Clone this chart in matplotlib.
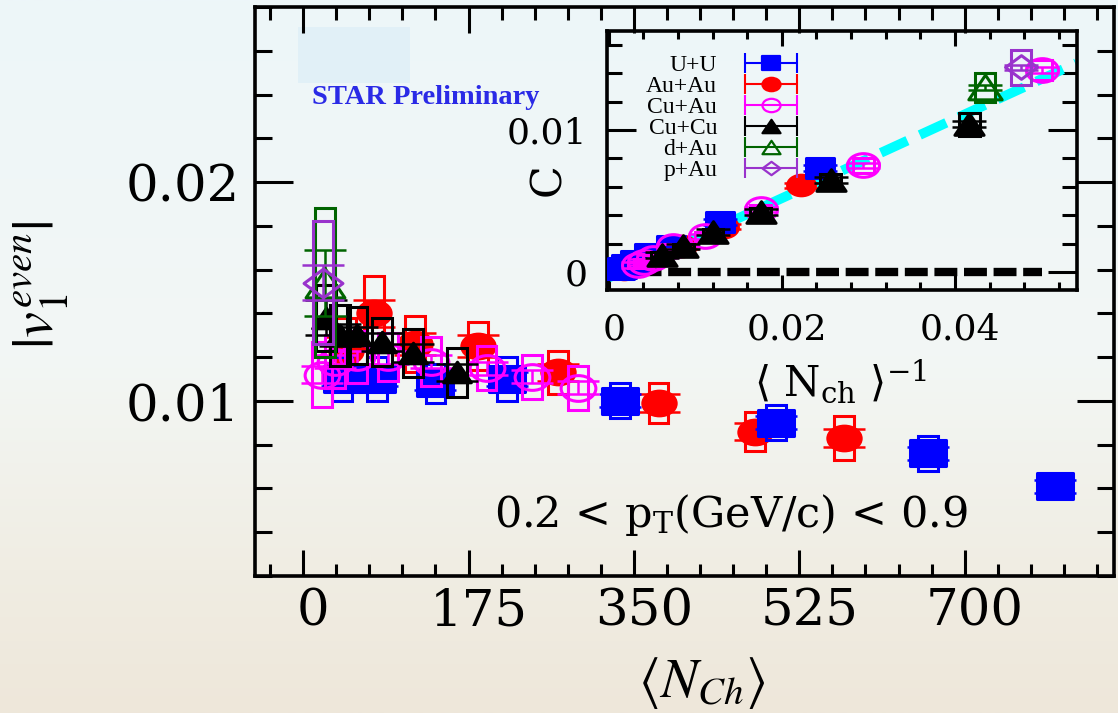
import matplotlib

matplotlib.use("Agg")

import matplotlib.pyplot as plt
import numpy as np
from matplotlib.container import ErrorbarContainer
from matplotlib.legend_handler import HandlerErrorbar
from matplotlib.patches import Rectangle
from matplotlib.path import Path
from matplotlib.ticker import FormatStrFormatter, MultipleLocator
from matplotlib.transforms import ScaledTranslation

# ---- data ----
systems = ["U+U", "Au+Au", "Cu+Au", "Cu+Cu", "d+Au", "p+Au"]

nch_uu = [41, 78, 140, 216, 335, 500, 661, 796]
v1_uu = [0.0110, 0.0110, 0.0108, 0.0110, 0.0100, 0.0090, 0.0076, 0.0061]
stat_uu = [0.0003, 0.0003, 0.0003, 0.0003, 0.0003, 0.0003, 0.0003, 0.0003]
sys_uu = [0.0010, 0.0010, 0.0009, 0.0010, 0.0008, 0.0008, 0.0008, 0.0005]
c_uu = [0.0073, 0.0035, 0.0018, 0.0013, 0.0008, 0.0005, 0.0003, 0.0002]

nch_auau = [45, 75, 118, 185, 270, 376, 478, 572]
v1_auau = [0.0123, 0.0140, 0.0126, 0.0125, 0.0113, 0.0099, 0.0086, 0.0083]
stat_auau = [0.0006, 0.0006, 0.0005, 0.0005, 0.0004, 0.0004, 0.0004, 0.0004]
sys_auau = [0.0015, 0.0017, 0.0013, 0.0011, 0.0010, 0.0009, 0.0009, 0.0010]
c_auau = [0.0061, 0.0032, 0.0018, 0.0012, 0.0008, 0.0005, 0.0003, 0.0002]

nch_cuau = [20, 34, 57, 90, 135, 194, 242, 291]
v1_cuau = [0.0112, 0.0118, 0.0120, 0.0120, 0.0118, 0.0115, 0.0111, 0.0106]
stat_cuau = [0.0004, 0.0003, 0.0003, 0.0003, 0.0003, 0.0003, 0.0003, 0.0003]
sys_cuau = [0.0015, 0.0012, 0.0012, 0.0011, 0.0011, 0.0010, 0.0010, 0.0010]
c_cuau = [0.0142, 0.0075, 0.0044, 0.0025, 0.0018, 0.0010, 0.0007, 0.0005]

nch_cucu = [24, 39, 57, 83, 116, 163]
v1_cucu = [0.0138, 0.0130, 0.0130, 0.0127, 0.0122, 0.0113]
stat_cucu = [0.0008, 0.0005, 0.0004, 0.0004, 0.0004, 0.0004]
sys_cucu = [0.0015, 0.0014, 0.0013, 0.0011, 0.0011, 0.0011]
c_cucu = [0.0104, 0.0065, 0.0042, 0.0028, 0.0018, 0.0012]

nch_dau = [23]
v1_dau = [0.0154]
stat_dau = [0.0015]
sys_dau = [0.0034]
c_dau = [0.0130]

nch_pau = [21]
v1_pau = [0.0154]
stat_pau = [0.0008]
sys_pau = [0.0028]
c_pau = [0.0144]

# inset: systematic half-heights on C
csys_uu = [0.0004, 0.0003, 0.0002, 0.0002, 0.0002, 0.0002, 0.0002, 0.0002]
csys_auau = [0.0004, 0.0003, 0.0002, 0.0002, 0.0002, 0.0002, 0.0002, 0.0002]
csys_cuau = [0.0007, 0.0005, 0.0003, 0.0003, 0.0002, 0.0002, 0.0002, 0.0002]
csys_cucu = [0.0008, 0.0004, 0.0003, 0.0002, 0.0002, 0.0002]
csys_dau = [0.0010]
csys_pau = [0.0012]

# linear fit (cyan) and zero reference in the inset
fit_x = [0.0, 0.054]
fit_y = [-0.0004, 0.0147]
zero_x = [0.0, 0.050]
zero_y = [0.0, 0.0]

# background gradient stops (top -> bottom)
bg_stops = [(0.0, "#edf6f9"), (0.5, "#f3f7f5"), (0.8, "#f0ede3"), (1.0, "#eee7da")]

SX = 1.35


def stretched(kind):
    if kind == "s":
        return Path([(-SX, -1), (SX, -1), (SX, 1), (-SX, 1), (-SX, -1)], closed=True)
    if kind == "o":
        circ = Path.unit_circle()
        return Path(circ.vertices * [SX, 1], circ.codes)
    if kind == "^":
        return Path([(0, 1), (-SX, -1), (SX, -1), (0, 1)], closed=True)
    return Path([(0, 1), (SX, 0), (0, -1), (-SX, 0), (0, 1)], closed=True)


series = [
    # label, nch, v1, stat, sys, C, Csys, color, marker, filled, ms_main, ms_inset
    ("Au+Au", nch_auau, v1_auau, stat_auau, sys_auau, c_auau, csys_auau, "#ff0000", "o", True, 24, 20),
    ("U+U", nch_uu, v1_uu, stat_uu, sys_uu, c_uu, csys_uu, "#0000ff", "s", True, 26, 20),
    ("Cu+Au", nch_cuau, v1_cuau, stat_cuau, sys_cuau, c_cuau, csys_cuau, "#ff00ff", "o", False, 25, 23),
    ("Cu+Cu", nch_cucu, v1_cucu, stat_cucu, sys_cucu, c_cucu, csys_cucu, "#000000", "^", True, 20, 21),
    ("d+Au", nch_dau, v1_dau, stat_dau, sys_dau, c_dau, csys_dau, "#006400", "^", False, 28, 24),
    ("p+Au", nch_pau, v1_pau, stat_pau, sys_pau, c_pau, csys_pau, "#9933cc", "D", False, 28, 23),
]


def draw_series(ax, x, y, yerr, sys, color, marker, filled, ms, box_w, capsize, z):
    for xi, yi, si in zip(x, y, sys):
        ax.add_patch(Rectangle((xi - box_w / 2, yi - si), box_w, 2 * si, fill=False,
                               edgecolor=color, lw=2.2, zorder=z))
    ax.errorbar(x, y, yerr=yerr, fmt="none", ecolor=color, elinewidth=1.8,
                capsize=capsize, capthick=1.8, zorder=z + 0.1)
    ax.plot(x, y, linestyle="none", marker=stretched(marker), ms=ms,
            mfc=color if filled else "none", mec=color, mew=2.2, zorder=z + 0.2)


W, H = 1118, 713
fig = plt.figure(figsize=(W / 100, H / 100), dpi=100)

# slide-like background
bg = fig.add_axes([0, 0, 1, 1], zorder=-10)
rows = np.linspace(0, 1, 256)
pos = [p for p, _ in bg_stops]
cols = np.array([matplotlib.colors.to_rgb(c) for _, c in bg_stops])
grad = np.stack([np.interp(rows, pos, cols[:, k]) for k in range(3)], axis=-1)[:, None, :]
bg.imshow(grad, aspect="auto", extent=[0, 1, 0, 1], origin="upper")
bg.add_patch(Rectangle((298 / W, 1 - 83 / H), 112 / W, 56 / H, facecolor="#e1f0f7",
                       edgecolor="none", transform=bg.transAxes))
bg.set_xlim(0, 1)
bg.set_ylim(0, 1)
bg.axis("off")

serif = "DejaVu Serif"

# ---- main panel ----
ax = fig.add_axes([255 / W, 1 - 576 / H, (1114 - 255) / W, (576 - 7) / H])
ax.set_facecolor("none")
for i, (label, nch, v1, st, sy, c, cs, color, mk, filled, ms, ms_in) in enumerate(series):
    draw_series(ax, nch, v1, st, sy, color, mk, filled, ms, 21, 15, 3 + i)

ax.set_xlim(-51, 858)
ax.set_ylim(0.002, 0.028)
ax.xaxis.set_major_locator(MultipleLocator(175))
ax.xaxis.set_minor_locator(MultipleLocator(35))
ax.yaxis.set_major_locator(MultipleLocator(0.01))
ax.yaxis.set_minor_locator(MultipleLocator(0.002))
ax.xaxis.set_major_formatter(FormatStrFormatter("%d"))
ax.yaxis.set_major_formatter(FormatStrFormatter("%.2f"))
ax.tick_params(which="both", direction="in", top=True, right=True, width=2.2)
ax.tick_params(axis="x", which="major", length=19, pad=8, labelsize=37)
ax.tick_params(axis="x", which="minor", length=9)
ax.tick_params(axis="y", which="major", length=27, pad=11, labelsize=37)
ax.tick_params(axis="y", which="minor", length=12)
for lab in ax.get_xticklabels() + ax.get_yticklabels():
    lab.set_fontfamily(serif)
for lab in ax.get_xticklabels():
    lab.set_transform(lab.get_transform() + ScaledTranslation(10 / 100, 0, fig.dpi_scale_trans))
for sp in ax.spines.values():
    sp.set_linewidth(2.6)

fig.text(41 / W, 1 - 285 / H, r"$|v_1^{even}|$", rotation=90, ha="center", va="center",
         fontsize=42, math_fontfamily="stix")
fig.text(701 / W, 1 - 683 / H, r"$\langle N_{Ch}\rangle$", ha="center", va="center",
         fontsize=40, math_fontfamily="stix")
fig.text(312 / W, 1 - 97 / H, "STAR Preliminary", ha="left", va="center", fontsize=20.5,
         fontweight="bold", color="#2a2ae6", fontfamily="Liberation Serif")
fig.text(731 / W, 1 - 515 / H, r"0.2 < p$_\mathrm{T}$(GeV/c) < 0.9", ha="center", va="center",
         fontsize=31, fontfamily=serif, math_fontfamily="dejavuserif")

# ---- inset ----
ax_in = fig.add_axes([607 / W, 1 - 290 / H, 470 / W, 259 / H], zorder=5)
ax_in.set_facecolor("none")
ax_in.plot(fit_x, fit_y, color="#00ffff", lw=7, dashes=(3.0, 1.4), solid_capstyle="butt", zorder=2)
ax_in.plot(zero_x, zero_y, color="black", lw=6, dashes=(2.75, 0.8), zorder=2)
handles = []
for i, (label, nch, v1, st, sy, c, cs, color, mk, filled, ms, ms_in) in enumerate(series):
    inv = 1.0 / np.asarray(nch, dtype=float)
    draw_series(ax_in, inv, c, [0.0002] * len(c), cs, color, mk, filled, ms_in, 0.0024, 12, 3 + i)
    h = ax_in.errorbar([np.nan], [np.nan], xerr=[1.0], fmt="none", ecolor=color, elinewidth=1.5,
                       capsize=7, capthick=1.5)
    handles.append((h, label, color, mk, filled))

leg_handles = []
for h, label, color, mk, filled in handles:
    marker_line = matplotlib.lines.Line2D([], [], linestyle="none", marker=stretched(mk), ms=13,
                                          mfc=color if filled else "none", mec=color, mew=1.6)
    leg_handles.append(ErrorbarContainer((marker_line, h.lines[1], h.lines[2]), has_xerr=True,
                                         has_yerr=False, label=label))
# legend order as in the figure
order = [1, 0, 2, 3, 4, 5]
leg = ax_in.legend([leg_handles[k] for k in order], [leg_handles[k].get_label() for k in order],
                   loc="upper right", bbox_to_anchor=(0.41, 0.91), frameon=False,
                   markerfirst=False, borderpad=0, borderaxespad=0, handlelength=2.4,
                   handletextpad=1.1, labelspacing=-0.02, numpoints=1,
                   prop={"family": "Liberation Serif", "size": 17},
                   handler_map={ErrorbarContainer: HandlerErrorbar(xerr_size=1.1)})

ax_in.set_xlim(-0.0002, 0.0541)
ax_in.set_ylim(-0.00127, 0.01697)
ax_in.xaxis.set_major_locator(MultipleLocator(0.02))
ax_in.xaxis.set_minor_locator(MultipleLocator(0.004))
ax_in.yaxis.set_major_locator(MultipleLocator(0.01))
ax_in.yaxis.set_minor_locator(MultipleLocator(0.002))
ax_in.xaxis.set_major_formatter(matplotlib.ticker.FuncFormatter(lambda v, p: "0" if abs(v) < 1e-9 else f"{v:.2f}"))
ax_in.yaxis.set_major_formatter(matplotlib.ticker.FuncFormatter(lambda v, p: "0" if abs(v) < 1e-9 else f"{v:.2f}"))
ax_in.tick_params(which="both", direction="in", top=True, right=True, width=2.2)
ax_in.tick_params(axis="x", which="major", length=11, pad=16, labelsize=26)
ax_in.tick_params(axis="x", which="minor", length=6)
ax_in.tick_params(axis="y", which="major", length=21, pad=14, labelsize=26)
ax_in.tick_params(axis="y", which="minor", length=11)
for lab in ax_in.get_xticklabels() + ax_in.get_yticklabels():
    lab.set_fontfamily(serif)
for lab in ax_in.get_xticklabels():
    lab.set_transform(lab.get_transform() + ScaledTranslation(5 / 100, 0, fig.dpi_scale_trans))
for sp in ax_in.spines.values():
    sp.set_linewidth(2.6)

fig.text(548 / W, 1 - 180 / H, "C", rotation=90, ha="center", va="center", fontsize=31,
         fontfamily=serif)
fig.text(840 / W, 1 - 382 / H, r"$\langle\ \mathrm{N_{ch}}\ \rangle^{-1}$", ha="center", va="center",
         fontsize=30, math_fontfamily="dejavuserif")

fig.savefig("out.png", dpi=100)
plt.close(fig)
